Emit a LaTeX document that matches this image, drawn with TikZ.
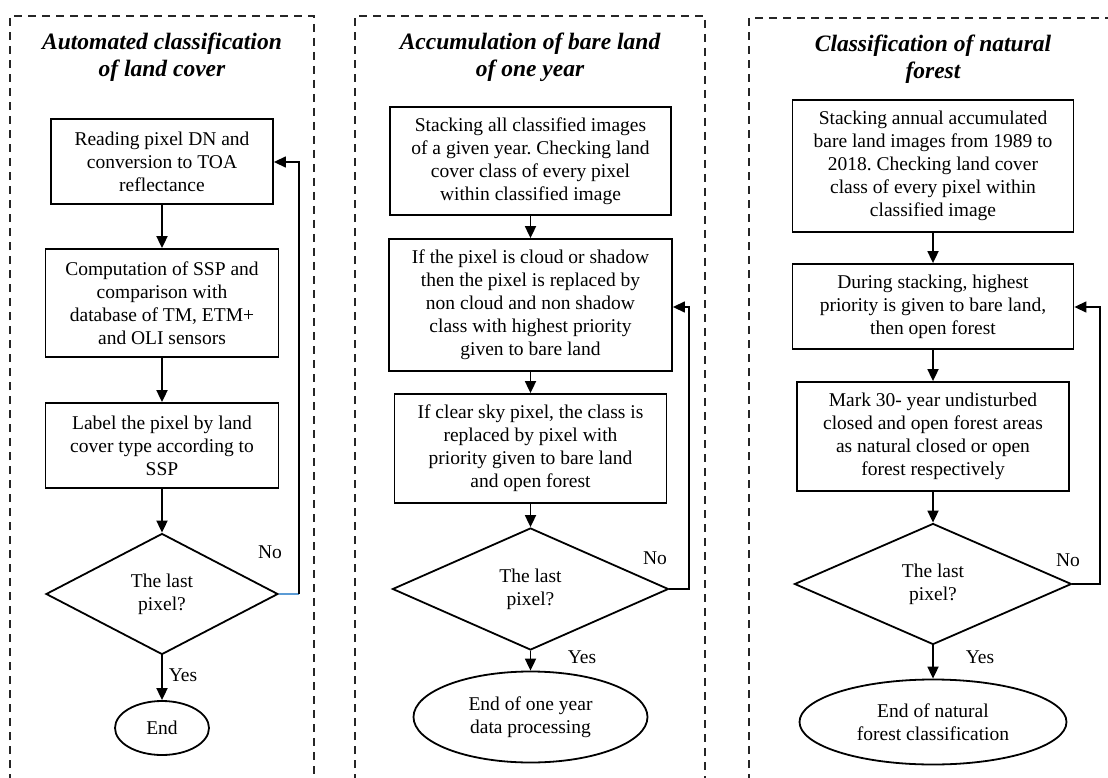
\documentclass[tikz,border=0pt]{standalone}
\usepackage{fontspec}
\setmainfont{Liberation Serif}
\usetikzlibrary{shapes.geometric,arrows.meta}
\begin{document}
\frenchspacing
\begin{tikzpicture}[x=1pt,y=-1pt,
  frame/.style={draw=black!85,line width=1.7pt,dash pattern=on 8pt off 6pt},
  ttl/.style={font=\fontsize{23.5}{27}\selectfont\bfseries\itshape,align=center,inner sep=0pt},
  stepbox/.style={draw,line width=1.8pt,rectangle,inner sep=0pt,align=center,font=\fontsize{19.5}{23}\selectfont},
  decide/.style={draw,line width=1.8pt,diamond,aspect=2,inner sep=0pt,align=center,font=\fontsize{19.5}{23}\selectfont},
  terminal/.style={draw,line width=1.8pt,ellipse,inner sep=0pt,align=center,font=\fontsize{19.5}{23}\selectfont},
  lbl/.style={inner sep=0pt,font=\fontsize{19.5}{23}\selectfont},
  arr/.style={line width=1.8pt,-{Triangle[length=12pt,width=11pt]}},
  back/.style={line width=1.4pt,-{Triangle[length=12pt,width=11pt]}}
]
\useasboundingbox (0,0) rectangle (1108,778);
\fill[white] (0,0) rectangle (1108,778);

% frames
\draw[frame] (10,782) -- (10,16) -- (314,16) -- (314,782);
\draw[frame] (355,782) -- (355,16) -- (705,16) -- (705,782);
\draw[frame] (749,782) -- (749,18) -- (1112,18);

% ---------- Panel 1 ----------
\node[ttl] (t1) at (162,57) {Automated classification\\of land cover};
\node[stepbox,minimum width=222pt,minimum height=85pt] (a1) at (162,161.5) {Reading pixel DN and\\conversion to TOA\\reflectance};
\node[stepbox,minimum width=233pt,minimum height=108pt] (a2) at (162,303) {Computation of SSP and\\comparison with\\database of TM, ETM+\\and OLI sensors};
\node[stepbox,minimum width=233pt,minimum height=85pt] (a3) at (162,445.5) {Label the pixel by land\\cover type according to\\SSP};
\node[decide,minimum width=232pt,minimum height=121pt] (ad) at (162,594) {The last\\pixel?};
\node[terminal,minimum width=94pt,minimum height=54pt] (ae) at (162,728) {End};
\coordinate (ar) at (299,594);
\coordinate (at) at (299,162);
\draw[arr] (a1) -- (a2);
\draw[arr] (a2) -- (a3);
\draw[arr] (a3) -- (ad);
\draw[arr] (ad) -- (ae);
\draw[line width=1.1pt,color={rgb,255:red,91;green,155;blue,213}] (ad.east) -- (ar);
\draw[back] (ar) -- (at) -- (a1.east |- at);
\node[lbl] (ano) at (270,552) {No};
\node[lbl] (ayes) at (183,675) {Yes};

% ---------- Panel 2 ----------
\node[ttl] (t2) at (530,57) {Accumulation of bare land\\of one year};
\node[stepbox,minimum width=281pt,minimum height=108pt] (b1) at (530.5,161) {Stacking all classified images\\of a given year. Checking land\\cover class of every pixel\\within classified image};
\node[stepbox,minimum width=283pt,minimum height=132pt] (b2) at (530.5,305) {If the pixel is cloud or shadow\\then the pixel is replaced by\\non cloud and non shadow\\class with highest priority\\given to bare land};
\node[stepbox,minimum width=272pt,minimum height=109pt] (b3) at (530.5,448.5) {If clear sky pixel, the class is\\replaced by pixel with\\priority given to bare land\\and open forest};
\node[decide,minimum width=276pt,minimum height=122pt] (bd) at (530.5,589) {The last\\pixel?};
\node[terminal,minimum width=234pt,minimum height=91pt] (be) at (530.5,717) {End of one year\\data processing};
\coordinate (br) at (689,589);
\coordinate (bt) at (689,307);
\draw[arr] (b1) -- (b2);
\draw[arr] (b2) -- (b3);
\draw[arr] (b3) -- (bd);
\draw[arr] (bd) -- (be);
\draw[back] (bd.east) -- (br) -- (bt) -- (b2.east |- bt);
\node[lbl] (bno) at (655,558) {No};
\node[lbl] (byes) at (582,657) {Yes};

% ---------- Panel 3 ----------
\node[ttl] (t3) at (933,59) {Classification of natural\\forest};
\node[stepbox,minimum width=281pt,minimum height=132pt] (c1) at (933,166) {Stacking annual accumulated\\bare land images from 1989 to\\2018. Checking land cover\\class of every pixel within\\classified image};
\node[stepbox,minimum width=281pt,minimum height=85pt] (c2) at (933,306.5) {During stacking, highest\\priority is given to bare land,\\then open forest};
\node[stepbox,minimum width=272pt,minimum height=109pt] (c3) at (933,436.5) {Mark 30- year undisturbed\\closed and open forest areas\\as natural closed or open\\forest respectively};
\node[decide,minimum width=277pt,minimum height=121pt] (cd) at (933,584) {The last\\pixel?};
\node[terminal,minimum width=267pt,minimum height=85pt] (ce) at (933,722) {End of natural\\forest classification};
\coordinate (cr) at (1100,584);
\coordinate (ct) at (1100,307);
\draw[arr] (c1) -- (c2);
\draw[arr] (c2) -- (c3);
\draw[arr] (c3) -- (cd);
\draw[arr] (cd) -- (ce);
\draw[back] (cd.east) -- (cr) -- (ct) -- (c2.east |- ct);
\node[lbl] (cno) at (1068,560) {No};
\node[lbl] (cyes) at (980,657) {Yes};
\end{tikzpicture}
\end{document}
